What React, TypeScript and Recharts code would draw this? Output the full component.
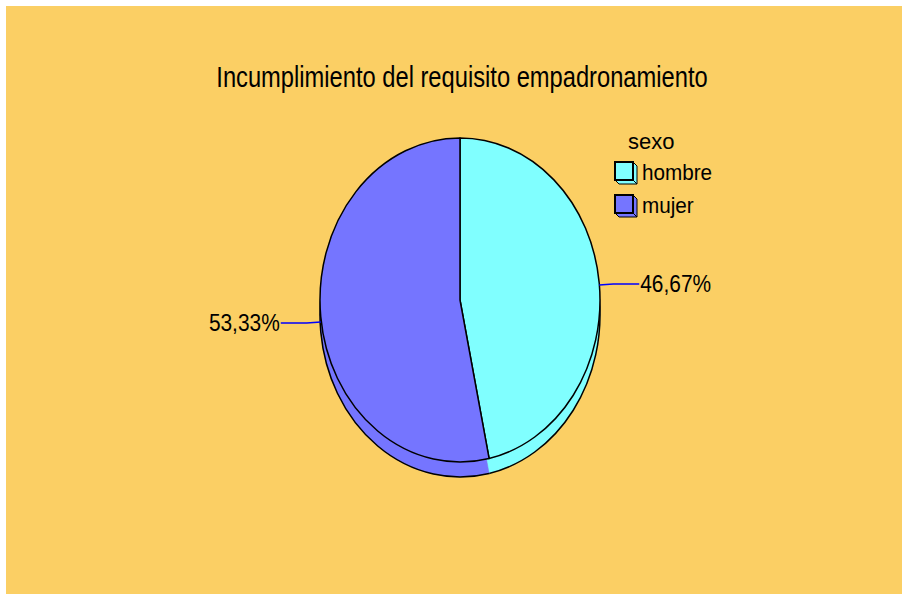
import React from 'react';
import { PieChart, Pie, Cell, Legend } from 'recharts';

// Chart data
const categories = ['hombre', 'mujer'];
const values = [46.67, 53.33];
const legendTitle = 'sexo';
const chartTitle = 'Incumplimiento del requisito empadronamiento';

const COLORS = ['#80FFFF', '#7575FF'];
const BG = '#FBCF64';
const FONT = '"Liberation Sans", Arial, sans-serif';

const data = categories.map((name, i) => ({ name, value: values[i] }));

// the pie is drawn as a tilted (elliptical) disc with some depth
const RX_RATIO = 140 / 162;
const DEPTH = 15;

const pt = (cx: number, cy: number, r: number, angle: number) => {
  const rad = (angle * Math.PI) / 180;
  return [cx + r * RX_RATIO * Math.cos(rad), cy - r * Math.sin(rad)];
};

const arc = (cx: number, cy: number, r: number, start: number, end: number) => {
  const [x1, y1] = pt(cx, cy, r, start);
  const [x2, y2] = pt(cx, cy, r, end);
  const large = Math.abs(end - start) > 180 ? 1 : 0;
  const sweep = end < start ? 1 : 0;
  return `M${x1},${y1} A${r * RX_RATIO},${r} 0 ${large} ${sweep} ${x2},${y2}`;
};

const TopSlice = (props: any) => {
  const { cx, cy, outerRadius, startAngle, endAngle, fill } = props;
  const [x1, y1] = pt(cx, cy, outerRadius, startAngle);
  const d = `M${cx},${cy} L${x1},${y1} ${arc(cx, cy, outerRadius, startAngle, endAngle).replace(/^M[^A]*/, '')} Z`;
  return <path d={d} fill={fill} stroke="#000" strokeWidth={1.5} strokeLinejoin="round" />;
};

const DepthSlice = (props: any) => {
  const { cx, cy, outerRadius, startAngle, endAngle, fill } = props;
  const [x1, y1] = pt(cx, cy, outerRadius, startAngle);
  const a = arc(cx, cy, outerRadius, startAngle, endAngle);
  const d = `M${cx},${cy} L${x1},${y1} ${a.replace(/^M[^A]*/, '')} Z`;
  return (
    <g>
      <path d={d} fill={fill} stroke={fill} strokeWidth={0.5} />
      <path d={a} fill="none" stroke="#000" strokeWidth={1.5} />
    </g>
  );
};

const renderLabel = (props: any) => {
  const { cx, cy, outerRadius, midAngle, percent } = props;
  const [x, y0] = pt(cx, cy, outerRadius, midAngle);
  const right = Math.cos((midAngle * Math.PI) / 180) >= 0;
  const dir = right ? 1 : -1;
  const y = y0 + (right ? 2 : 5);
  const ty = y + (right ? -1 : 1);
  const tx = x + dir * 41;
  const txt = `${(percent * 100).toFixed(2).replace('.', ',')}%`;
  return (
    <g>
      <polyline
        points={`${x},${y} ${x + dir * 14},${ty} ${x + dir * 40},${ty}`}
        fill="none"
        stroke="#0000FF"
        strokeWidth={1.5}
      />
      <text
        x={tx}
        y={ty}
        textAnchor={right ? 'start' : 'end'}
        dominantBaseline="central"
        fontFamily={FONT}
        fontSize={22}
        fill="#000"
        transform={`translate(${tx},${ty}) scale(0.95,1.1) translate(${-tx},${-ty})`}
      >
        {txt}
      </text>
    </g>
  );
};

const BoxIcon = ({ color }: { color: string }) => (
  <svg width={24} height={24} style={{ display: 'block' }}>
    <polygon points="1,19 19,19 23,23 5,23" fill={color} stroke="#000" strokeWidth={1} />
    <polygon points="19,1 23,5 23,23 19,19" fill={color} stroke="#000" strokeWidth={1} />
    <rect x={1} y={1} width={18} height={18} fill={color} stroke="#000" strokeWidth={2} />
  </svg>
);

const LegendBox = ({ payload }: any) => {
  const seen = new Set<string>();
  const items = (payload || []).filter((p: any) => {
    if (seen.has(p.value)) return false;
    seen.add(p.value);
    return true;
  });
  return (
    <div style={{ fontFamily: FONT, fontSize: 22, color: '#000', lineHeight: '33px' }}>
      <div style={{ paddingLeft: 14, lineHeight: '28px' }}>{legendTitle}</div>
      {items.map((p: any) => (
        <div key={p.value} style={{ display: 'flex', alignItems: 'center', height: 33 }}>
          <BoxIcon color={p.color} />
          <span style={{ marginLeft: 4, display: 'inline-block', transform: 'scaleX(0.94)', transformOrigin: 'left center' }}>
            {p.value}
          </span>
        </div>
      ))}
    </div>
  );
};

export default function App() {
  return (
    <div style={{ position: 'absolute', left: 6, top: 6, width: 896, height: 588, background: BG }}>
      <div
        style={{
          position: 'absolute',
          left: 0,
          width: 912,
          top: 54,
          textAlign: 'center',
          fontFamily: FONT,
          fontSize: 30,
          color: '#000',
          whiteSpace: 'nowrap',
          transform: 'scaleX(0.79)',
          transformOrigin: '456px 0',
        }}
      >
        {chartTitle}
      </div>
      <PieChart width={896} height={588} margin={{ top: 0, right: 0, bottom: 0, left: 0 }}>
        <Pie
          data={data}
          dataKey="value"
          nameKey="name"
          cx={454}
          cy={294 + DEPTH}
          outerRadius={162}
          startAngle={90}
          endAngle={-270}
          shape={DepthSlice}
          legendType="none"
          isAnimationActive={false}
        >
          {data.map((d, i) => (
            <Cell key={d.name} fill={COLORS[i]} />
          ))}
        </Pie>
        <Pie
          data={data}
          dataKey="value"
          nameKey="name"
          cx={454}
          cy={294}
          outerRadius={162}
          startAngle={90}
          endAngle={-270}
          shape={TopSlice}
          label={renderLabel}
          labelLine={false}
          isAnimationActive={false}
        >
          {data.map((d, i) => (
            <Cell key={d.name} fill={COLORS[i]} />
          ))}
        </Pie>
        <Legend
          content={<LegendBox />}
          wrapperStyle={{ position: 'absolute', left: 608, top: 122, width: 140 }}
        />
      </PieChart>
    </div>
  );
}
